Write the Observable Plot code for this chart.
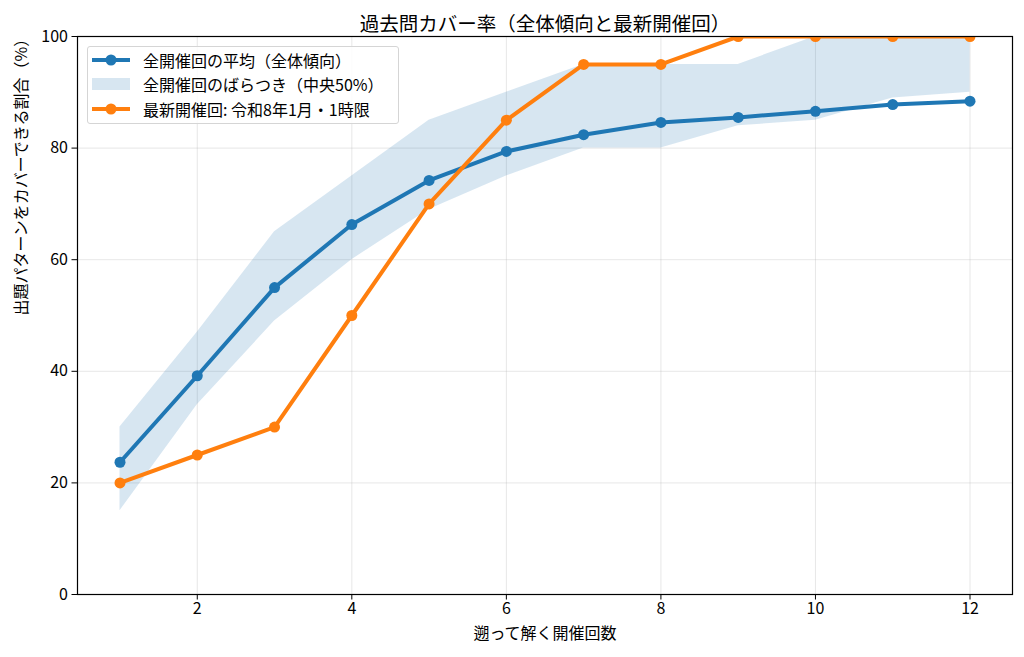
<!DOCTYPE html>
<html>
<head>
<meta charset="utf-8">
<script src="https://cdn.jsdelivr.net/npm/d3@7"></script>
<script src="https://cdn.jsdelivr.net/npm/@observablehq/plot@0.6"></script>
<style>
  html, body { margin: 0; padding: 0; background: #fff; }
  body { font-family: "Noto Sans CJK JP", "Noto Sans", sans-serif; }
  #wrap { position: relative; width: 1024px; height: 657px; }
  #legend {
    position: absolute; left: 87px; top: 46px; width: 312px; height: 78px;
    border: 1px solid #d5d5d5; border-radius: 3px; background: rgba(255,255,255,0.85);
    box-sizing: border-box; font-size: 16px; color: #000;
  }
  .row { position: absolute; left: 0; height: 22px; display: flex; align-items: center; }
  .row svg { margin-left: 4px; }
  .row span { margin-left: 13px; white-space: nowrap; }
</style>
</head>
<body>
<div id="wrap"></div>
<script>
const rounds = [1, 2, 3, 4, 5, 6, 7, 8, 9, 10, 11, 12];
const meanAll = [23.7, 39.2, 55.0, 66.3, 74.2, 79.4, 82.4, 84.6, 85.5, 86.6, 87.8, 88.4];
const bandLow = [15, 34, 49, 60, 69, 75, 80, 80, 84, 85, 89, 90];
const bandHigh = [30, 47, 65, 75, 85, 90, 95, 95, 95, 100, 100, 100];
const latest = [20, 25, 30, 50, 70, 85, 95, 95, 100, 100, 100, 100];
const xTicks = [2, 4, 6, 8, 10, 12];
const yTicks = [0, 20, 40, 60, 80, 100];

const titleText = "過去問カバー率（全体傾向と最新開催回）";
const xLabel = "遡って解く開催回数";
const yLabel = "出題パターンをカバーできる割合（%）";
const legendLabels = ["全開催回の平均（全体傾向）", "全開催回のばらつき（中央50%）", "最新開催回: 令和8年1月・1時限"];

const BLUE = "#1f77b4", ORANGE = "#ff7f0e";
const band = rounds.map((r, i) => ({x: r, lo: bandLow[i], hi: bandHigh[i]}));
const mean = rounds.map((r, i) => ({x: r, y: meanAll[i]}));
const last = rounds.map((r, i) => ({x: r, y: latest[i]}));

const chart = Plot.plot({
  width: 1024,
  height: 657,
  marginTop: 36,
  marginBottom: 63,
  marginLeft: 77,
  marginRight: 12,
  style: {fontFamily: '"Noto Sans CJK JP", "Noto Sans", sans-serif', fontSize: "16px", color: "#000", background: "#fff"},
  x: {domain: [0.45, 12.55]},
  y: {domain: [0, 100]},
  marks: [
    Plot.gridX(xTicks, {stroke: "#b0b0b0", strokeOpacity: 0.3, strokeWidth: 1}),
    Plot.gridY(yTicks, {stroke: "#b0b0b0", strokeOpacity: 0.3, strokeWidth: 1}),
    Plot.areaY(band, {x: "x", y1: "lo", y2: "hi", fill: BLUE, fillOpacity: 0.18, clip: true}),
    Plot.line(mean, {x: "x", y: "y", stroke: BLUE, strokeWidth: 4, clip: true}),
    Plot.dot(mean, {x: "x", y: "y", r: 5.5, fill: BLUE, stroke: "none", clip: true}),
    Plot.line(last, {x: "x", y: "y", stroke: ORANGE, strokeWidth: 4, clip: true}),
    Plot.dot(last, {x: "x", y: "y", r: 5.5, fill: ORANGE, stroke: "none", clip: true}),
    Plot.frame({stroke: "#000", strokeWidth: 1.2}),
    Plot.axisX(xTicks, {tickSize: 5.5, tickPadding: 3, fontSize: 16, label: null, stroke: "#000", fill: "#000"}),
    Plot.axisY(yTicks, {tickSize: 5.5, tickPadding: 4, fontSize: 16, label: null, stroke: "#000", fill: "#000"}),
    Plot.text([titleText], {frameAnchor: "top", dy: -19, fontSize: 19.5, fill: "#000"}),
    Plot.text([xLabel], {frameAnchor: "bottom", dy: 44, fontSize: 16, fill: "#000"}),
    Plot.text([yLabel], {frameAnchor: "left", dx: -56, rotate: -90, fontSize: 16, fill: "#000"})
  ]
});

const wrap = document.getElementById("wrap");
wrap.appendChild(chart);

const legend = document.createElement("div");
legend.id = "legend";
const swatches = [
  `<svg width="38" height="14"><line x1="0" y1="7" x2="38" y2="7" stroke="${BLUE}" stroke-width="4"/><circle cx="19" cy="7" r="5.5" fill="${BLUE}"/></svg>`,
  `<svg width="38" height="14"><rect x="0" y="1" width="38" height="12" fill="${BLUE}" fill-opacity="0.18"/></svg>`,
  `<svg width="38" height="14"><line x1="0" y1="7" x2="38" y2="7" stroke="${ORANGE}" stroke-width="4"/><circle cx="19" cy="7" r="5.5" fill="${ORANGE}"/></svg>`
];
const tops = [2, 26, 51];
legendLabels.forEach((lab, i) => {
  const row = document.createElement("div");
  row.className = "row";
  row.style.top = tops[i] + "px";
  row.innerHTML = swatches[i] + `<span>${lab}</span>`;
  legend.appendChild(row);
});
wrap.appendChild(legend);
</script>
</body>
</html>
